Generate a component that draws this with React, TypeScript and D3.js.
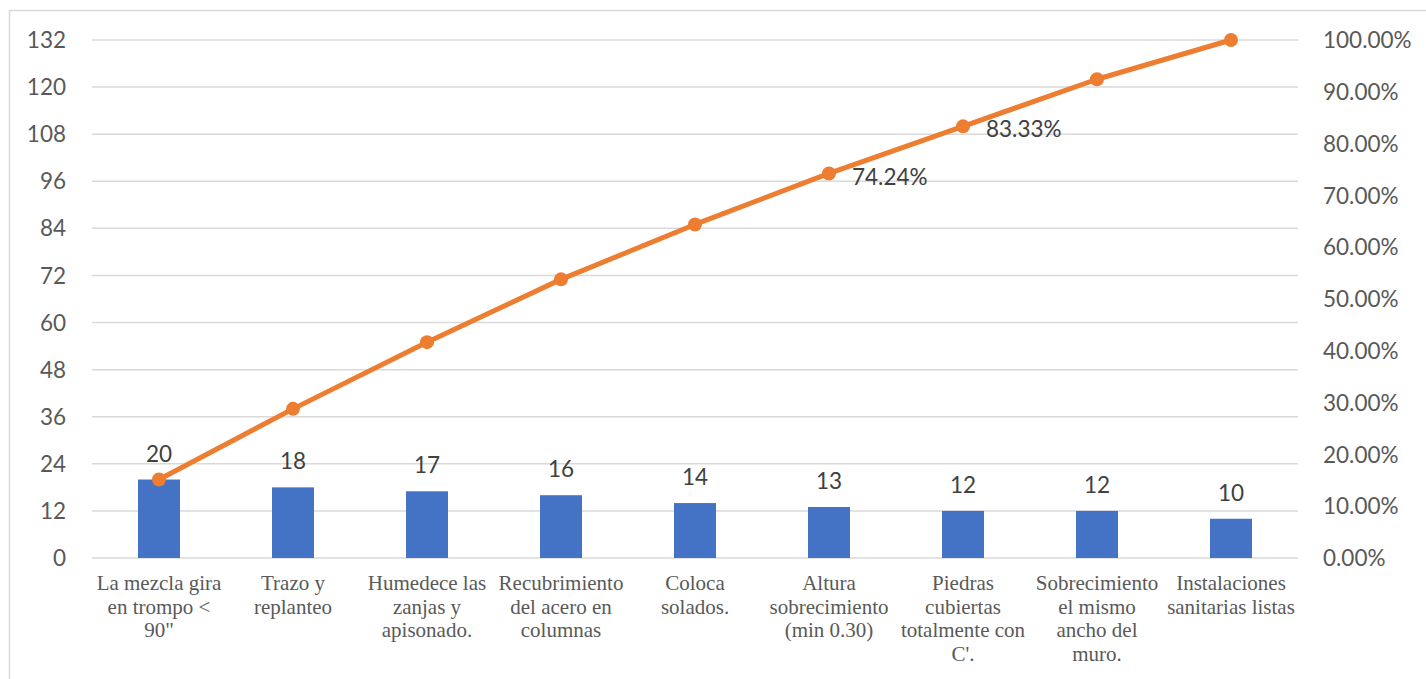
import React from "react";
import * as d3 from "d3";

const categories: string[][] = [
  ["La mezcla gira", "en trompo <", "90\""],
  ["Trazo y", "replanteo"],
  ["Humedece las", "zanjas y", "apisonado."],
  ["Recubrimiento", "del acero en", "columnas"],
  ["Coloca", "solados."],
  ["Altura", "sobrecimiento", "(min 0.30)"],
  ["Piedras", "cubiertas", "totalmente con", "C'."],
  ["Sobrecimiento", "el mismo", "ancho del", "muro."],
  ["Instalaciones", "sanitarias listas"],
];
const counts = [20, 18, 17, 16, 14, 13, 12, 12, 10];
const cumulativePct = [15.15, 28.79, 41.67, 53.79, 64.39, 74.24, 83.33, 92.42, 100];
const pctLabelShown = [false, false, false, false, false, true, true, false, false];
const leftTicks = [0, 12, 24, 36, 48, 60, 72, 84, 96, 108, 120, 132];
const rightTicks = [0, 10, 20, 30, 40, 50, 60, 70, 80, 90, 100];

const W = 1426;
const H = 679;
const plotL = 92;
const plotR = 1298;
const plotT = 40;
const plotB = 558;

export default function App() {
  const x = d3
    .scaleBand<number>()
    .domain(counts.map((_, i) => i))
    .range([plotL, plotR])
    .paddingInner(0.6866)
    .paddingOuter(0.3433);
  const xc = (i: number) => (x(i) as number) + x.bandwidth() / 2;
  const y = d3.scaleLinear().domain([0, 132]).range([plotB, plotT]);
  const yP = d3.scaleLinear().domain([0, 100]).range([plotB, plotT]);
  const line = d3
    .line<number>()
    .x((_, i) => xc(i))
    .y((d) => yP(d));
  const sans = "Lato, 'Open Sans', sans-serif";
  const serif = "'Liberation Serif', 'Times New Roman', serif";
  return (
    <div style={{ position: "fixed", left: 0, top: 0 }}>
      <svg width={W} height={H} style={{ display: "block", background: "#fff" }}>
        <rect x={9.5} y={10.5} width={W} height={H} fill="#fff" stroke="#d9d9d9" strokeWidth={1.5} />
        {leftTicks.map((t) => (
          <line key={t} x1={plotL} x2={plotR} y1={y(t)} y2={y(t)} stroke="#d9d9d9" strokeWidth={1.5} />
        ))}
        {leftTicks.map((t) => (
          <text key={"l" + t} x={66} y={y(t)} dy="0.36em" textAnchor="end" fontFamily={sans} fontSize={22.5} fill="#595959">
            {t}
          </text>
        ))}
        {rightTicks.map((t) => (
          <text key={"r" + t} x={1323} y={yP(t)} dy="0.36em" textAnchor="start" fontFamily={sans} fontSize={22.5} fill="#595959">
            {t.toFixed(2) + "%"}
          </text>
        ))}
        {counts.map((c, i) => (
          <rect key={"b" + i} x={x(i)} y={y(c)} width={x.bandwidth()} height={y(0) - y(c)} fill="#4472C4" />
        ))}
        {counts.map((c, i) => (
          <text key={"bl" + i} x={xc(i)} y={y(c) - 18} textAnchor="middle" fontFamily={sans} fontSize={22.5} fill="#404040">
            {c}
          </text>
        ))}
        {categories.map((lines, i) => (
          <text key={"c" + i} x={xc(i)} y={590} textAnchor="middle" fontFamily={serif} fontSize={21} fill="#595959">
            {lines.map((l, j) => (
              <tspan key={j} x={xc(i)} dy={j === 0 ? 0 : 23.7}>
                {l}
              </tspan>
            ))}
          </text>
        ))}
        <path d={line(cumulativePct) || ""} fill="none" stroke="#ED7D31" strokeWidth={5} strokeLinejoin="round" />
        {cumulativePct.map((p, i) => (
          <circle key={"m" + i} cx={xc(i)} cy={yP(p)} r={7} fill="#ED7D31" />
        ))}
        {cumulativePct.map((p, i) =>
          pctLabelShown[i] ? (
            <text key={"pl" + i} x={xc(i) + 23} y={yP(p) + 3} dy="0.36em" fontFamily={sans} fontSize={22.5} fill="#404040">
              {p.toFixed(2) + "%"}
            </text>
          ) : null
        )}
      </svg>
    </div>
  );
}
